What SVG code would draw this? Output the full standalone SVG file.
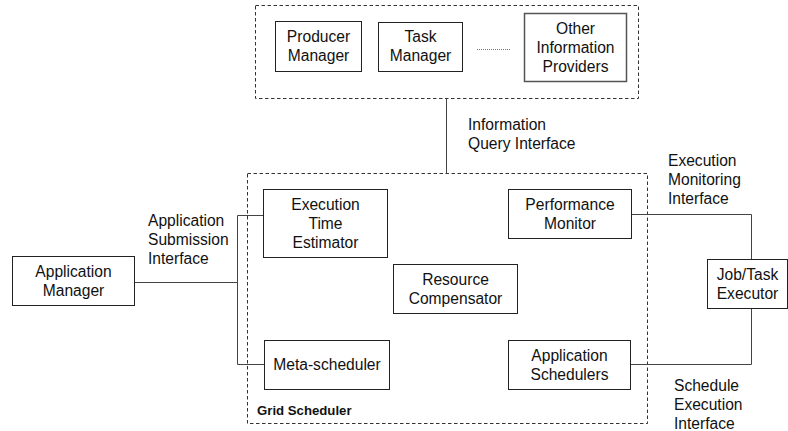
<svg xmlns="http://www.w3.org/2000/svg" width="788" height="431" viewBox="0 0 788 431">
<style>
  .box { fill: #fff; stroke: #222; stroke-width: 1; }
  .box2 { fill: #fff; stroke: #555; stroke-width: 1.5; }
  .grp { fill: none; stroke: #333; stroke-width: 1; stroke-dasharray: 3.5 2.5; }
  .wire { fill: none; stroke: #444; stroke-width: 1; }
  .dots { fill: none; stroke: #777; stroke-width: 1; stroke-dasharray: 1 1; }
  text { font-family: "Liberation Sans", Arial, Helvetica, sans-serif; font-size: 15.6px; fill: #111; }
  .c { text-anchor: middle; }
  .b { font-weight: bold; font-size: 13.2px; }
</style>
<rect width="788" height="431" fill="#fff"/>

<g id="info-providers">
  <rect class="grp" x="255.5" y="5.5" width="383" height="93"/>
</g>
<g id="grid-scheduler">
  <rect class="grp" x="247.5" y="173.5" width="400" height="250"/>
  <text class="b" x="257" y="415">Grid Scheduler</text>
</g>

<g id="connectors">
  <line class="wire" x1="446.5" y1="98.5" x2="446.5" y2="173.5"/>
  <polyline class="wire" points="134,282.5 237.5,282.5"/>
  <polyline class="wire" points="263,215.5 237.5,215.5 237.5,364.5 264,364.5"/>
  <polyline class="wire" points="631,214.5 751.5,214.5 751.5,259"/>
  <polyline class="wire" points="630,364.5 751.5,364.5 751.5,308"/>
  <line class="dots" x1="477" y1="49.5" x2="511" y2="49.5"/>
</g>

<g id="producer-manager">
  <rect class="box" x="275.5" y="21.5" width="86" height="50"/>
  <text class="c" x="318.5" y="42">Producer</text>
  <text class="c" x="318.5" y="61">Manager</text>
</g>
<g id="task-manager">
  <rect class="box" x="378.5" y="22.5" width="84" height="49"/>
  <text class="c" x="420.5" y="42">Task</text>
  <text class="c" x="420.5" y="61">Manager</text>
</g>
<g id="other-information-providers">
  <rect class="box2" x="524.5" y="13.5" width="102" height="68"/>
  <text class="c" x="575.5" y="34">Other</text>
  <text class="c" x="575.5" y="53">Information</text>
  <text class="c" x="575.5" y="72">Providers</text>
</g>

<g id="label-information-query">
  <text x="468" y="130">Information</text>
  <text x="468" y="149">Query Interface</text>
</g>

<g id="application-manager">
  <rect class="box" x="12.5" y="256.5" width="122" height="49"/>
  <text class="c" x="73.5" y="277">Application</text>
  <text class="c" x="73.5" y="296">Manager</text>
</g>
<g id="label-application-submission">
  <text x="148" y="226">Application</text>
  <text x="148" y="245">Submission</text>
  <text x="148" y="264">Interface</text>
</g>

<g id="execution-time-estimator">
  <rect class="box" x="263.5" y="189.5" width="124" height="68"/>
  <text class="c" x="325.5" y="210">Execution</text>
  <text class="c" x="325.5" y="229">Time</text>
  <text class="c" x="325.5" y="248">Estimator</text>
</g>
<g id="meta-scheduler">
  <rect class="box" x="264.5" y="340.5" width="125" height="49"/>
  <text class="c" x="327" y="370">Meta-scheduler</text>
</g>
<g id="resource-compensator">
  <rect class="box" x="393.5" y="264.5" width="124" height="49"/>
  <text class="c" x="455.5" y="285">Resource</text>
  <text class="c" x="455.5" y="304">Compensator</text>
</g>
<g id="performance-monitor">
  <rect class="box" x="508.5" y="189.5" width="123" height="49"/>
  <text class="c" x="570" y="210">Performance</text>
  <text class="c" x="570" y="229">Monitor</text>
</g>
<g id="application-schedulers">
  <rect class="box" x="508.5" y="340.5" width="122" height="49"/>
  <text class="c" x="569.5" y="361">Application</text>
  <text class="c" x="569.5" y="380">Schedulers</text>
</g>
<g id="job-task-executor">
  <rect class="box" x="707.5" y="259.5" width="80" height="49"/>
  <text class="c" x="747.5" y="280">Job/Task</text>
  <text class="c" x="747.5" y="299">Executor</text>
</g>

<g id="label-execution-monitoring">
  <text x="668" y="166">Execution</text>
  <text x="668" y="185">Monitoring</text>
  <text x="668" y="204">Interface</text>
</g>
<g id="label-schedule-execution">
  <text x="674" y="391">Schedule</text>
  <text x="674" y="410">Execution</text>
  <text x="674" y="429">Interface</text>
</g>
</svg>
